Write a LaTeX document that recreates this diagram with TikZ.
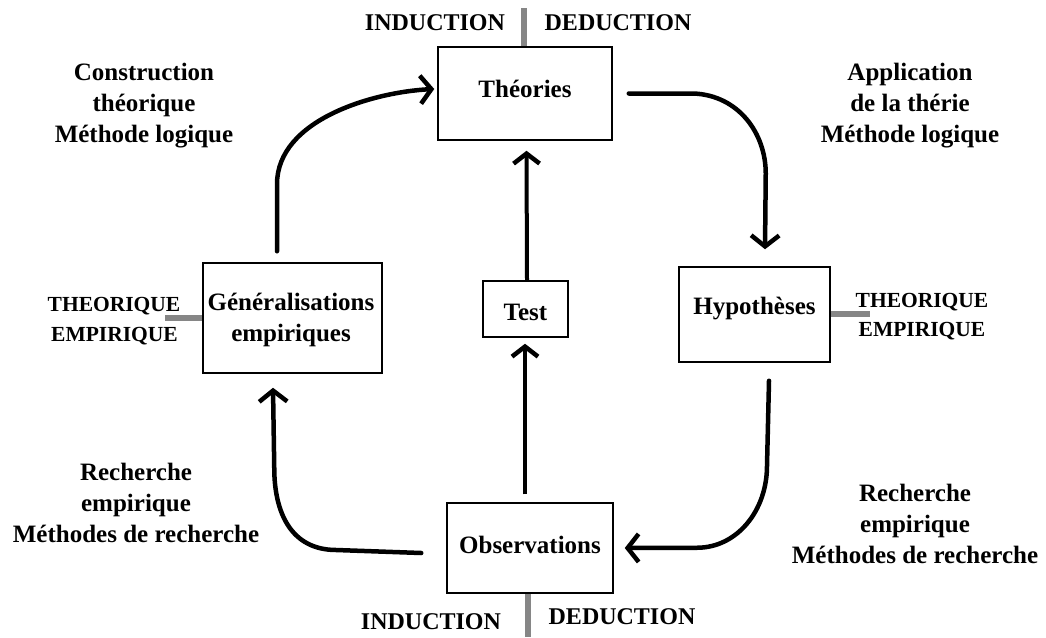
\documentclass[tikz,border=0pt]{standalone}
\usepackage{fontspec}
\setmainfont{Liberation Serif}[BoldFont={Liberation Serif Bold}]
\usetikzlibrary{arrows.meta}
\begin{document}
\begin{tikzpicture}[x=1pt,y=-1pt,
  box/.style={draw,line width=1.5pt,inner sep=0pt},
  txt/.style={font=\fontsize{25}{31}\selectfont\bfseries,align=center,inner sep=0pt},
  caps/.style={font=\fontsize{24}{30}\selectfont\bfseries,inner sep=0pt},
  small/.style={font=\fontsize{21.5}{29}\selectfont\bfseries,inner sep=0pt},
  bar/.style={draw=gray!95,line width=6.5pt},
  arr/.style={line width=4.5pt,line cap=round,-{Straight Barb[length=11pt,width=28pt,line width=4.5pt]}},
  arrt/.style={line width=4pt,-{Straight Barb[length=10pt,width=26pt,line width=4.5pt]}}]
\useasboundingbox (0,0) rectangle (1046,637);
% boxes
\node[box,minimum width=174pt,minimum height=93pt] (th) at (525,93.5) {};
\node[txt] (thT) at (525,89) {Théories};
\node[box,minimum width=151pt,minimum height=95pt] (hyp) at (754.5,314.5) {};
\node[txt] (hypT) at (754.5,309) {Hypothèses};
\node[box,minimum width=179pt,minimum height=110pt] (gen) at (292.5,318) {};
\node[txt] (genT) at (291,320) {Généralisations\\empiriques};
\node[box,minimum width=85pt,minimum height=56pt] (test) at (525.5,309) {};
\node[txt] (testT) at (525.5,312) {Test};
\node[box,minimum width=166pt,minimum height=90pt] (obs) at (530,548) {};
\node[txt] (obsT) at (530,545) {Observations};
% gray bars
\coordinate (btop) at (524,8);
\draw[bar] (btop) -- (btop |- th.north);
\coordinate (bbot) at (528,637);
\draw[bar] (bbot |- obs.south) -- (bbot);
\coordinate (bl) at (165,318);
\draw[bar] (bl) -- (bl -| gen.west);
\coordinate (br) at (870,314);
\draw[bar] (br -| hyp.east) -- (br);
% caps labels
\node[caps] (ind1) at (435,23) {INDUCTION};
\node[caps] (ded1) at (618,23) {DEDUCTION};
\node[caps] (ind2) at (431,622) {INDUCTION};
\node[caps] (ded2) at (622,617) {DEDUCTION};
\node[small] (th1) at (114,306) {THEORIQUE};
\node[small] (em1) at (114.5,336) {EMPIRIQUE};
\node[small] (th2) at (922,302) {THEORIQUE};
\node[small] (em2) at (922,331) {EMPIRIQUE};
% side labels
\node[txt] (l1) at (144,106) {Construction\\théorique\\Méthode logique};
\node[txt] (l2) at (910,106) {Application\\de la thérie\\Méthode logique};
\node[txt] (l3) at (136,503) {Recherche\\empirique\\Méthodes de recherche};
\node[txt] (l4) at (915,524) {Recherche\\empirique\\Méthodes de recherche};
% arrows
\coordinate (g1) at ([xshift=-15.5pt,yshift=11pt]gen.north);
\coordinate (t1) at ([xshift=-3pt,yshift=4.5pt]th.west);
\draw[arr] (g1) -- ++(0,-67) .. controls +(0,-65) and +(-60,3) .. (t1);
\coordinate (a2) at ([xshift=16pt]th.east);
\coordinate (b2) at ([xshift=10.5pt,yshift=17pt]hyp.north);
\draw[arr] (a2) -- ++(65,0) .. controls +(45,2) and +(0,-40) .. ++(72,80) -- (b2);
\coordinate (a3) at ([xshift=14.5pt,yshift=-18pt]hyp.south);
\coordinate (b3) at ([xshift=11pt]obs.east);
\draw[arr] (a3) -- ++(-2,85) .. controls +(0,45) and +(40,0) .. ++(-70,82) -- (b3);
\coordinate (a4) at ([xshift=-25pt,yshift=-5pt]obs.west);
\coordinate (b4) at ([xshift=-19.5pt,yshift=-14pt]gen.south);
\draw[arr] (a4) -- ++(-85,-3) .. controls +(-45,0) and +(0,45) .. ++(-62,-82) -- (b4);
\coordinate (a5) at ([xshift=-5pt,yshift=8pt]obs.north);
\coordinate (b5) at ([xshift=-0.5pt,yshift=-6pt]test.south);
\draw[arrt] (a5) -- (b5);
\coordinate (a6) at ([xshift=1.5pt]test.north);
\coordinate (b6) at ([xshift=1.5pt,yshift=-10pt]th.south);
\draw[arrt] (a6) -- (b6);
\end{tikzpicture}
\end{document}
